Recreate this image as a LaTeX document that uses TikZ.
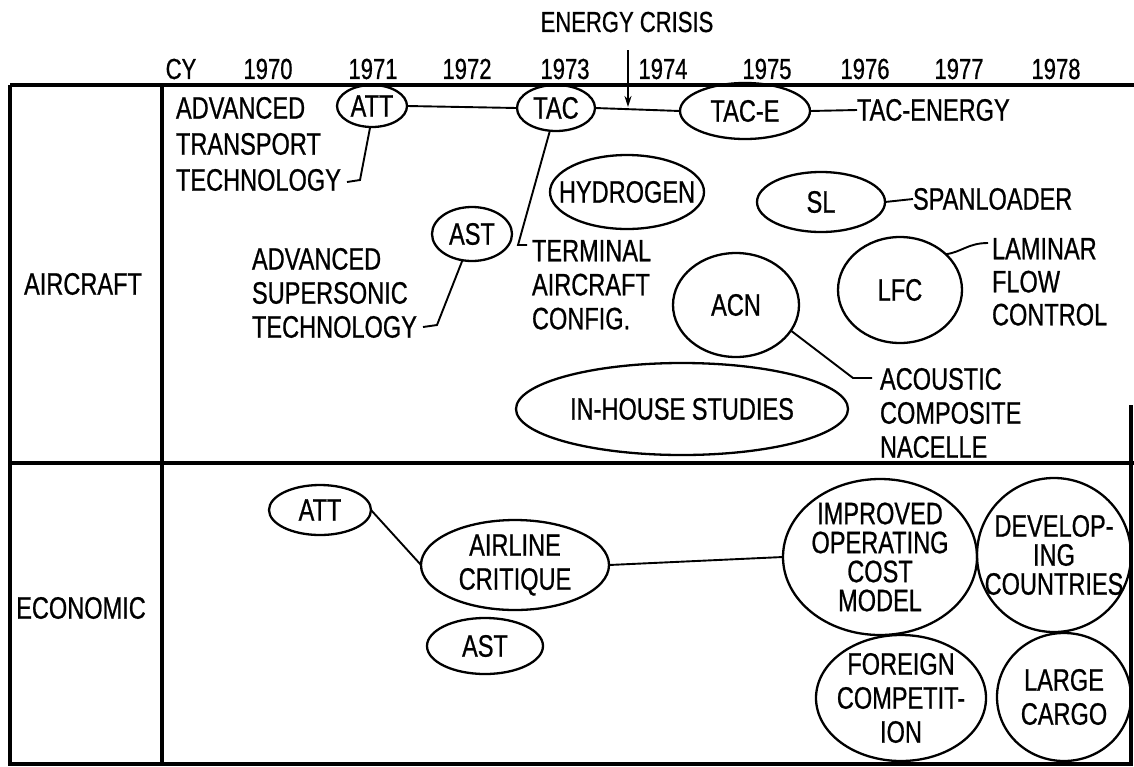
\documentclass[tikz,border=0pt]{standalone}
\usepackage{fontspec}
\setmainfont{Liberation Sans}[FakeStretch=0.76, FakeBold=0.7]
\usetikzlibrary{shapes.geometric,arrows.meta}
\begin{document}
\begin{tikzpicture}[x=1pt,y=-1pt,
  every node/.style={inner sep=0pt, outer sep=0pt},
  txt/.style={font=\fontsize{31}{34}\selectfont, align=left},
  ctxt/.style={font=\fontsize{31}{34}\selectfont, align=center},
  hdr/.style={font=\fontsize{29}{32}\selectfont},
  oval/.style 2 args={draw, ellipse, line width=2.3pt, minimum width=#1, minimum height=#2},
  frame/.style={line width=3.4pt},
  conn/.style={line width=1.9pt},
]
\useasboundingbox (0,0) rectangle (1134,766);
% frame
\draw[frame] (10,85) -- (1134,85);
\draw[frame] (10,463) -- (1134,463);
\draw[frame] (10,85) -- (10,764) -- (1131,764) -- (1131,405);
\draw[frame] (162,85) -- (162,764);
% header
\node[hdr] (title) at (627,22) {ENERGY CRISIS};
\node[hdr] (cy) at (181,69) {CY};
\node[hdr] (y70) at (268,69) {1970};
\node[hdr] (y71) at (373,69) {1971};
\node[hdr] (y72) at (467,69) {1972};
\node[hdr] (y73) at (565,69) {1973};
\node[hdr] (y74) at (663,69) {1974};
\node[hdr] (y75) at (767,69) {1975};
\node[hdr] (y76) at (865,69) {1976};
\node[hdr] (y77) at (959,69) {1977};
\node[hdr] (y78) at (1056,69) {1978};
% row labels
\node[txt] (aircraft) at (83,284) {AIRCRAFT};
\node[txt] (economic) at (81,608) {ECONOMIC};
% aircraft row
\node[oval={70}{42}] (att) at (372,106) {};
\node[ctxt] (attT) at (att) {ATT};
\node[oval={78}{46}] (tac) at (556,108) {};
\node[ctxt] (tacT) at (tac) {TAC};
\node[oval={130}{56}] (tace) at (745,111) {};
\node[ctxt] (taceT) at (tace) {TAC-E};
\node[txt, anchor=west] (tacen) at (857,110) {TAC-ENERGY};
\node[oval={154}{74}] (hyd) at (627,192) {};
\node[ctxt] (hydT) at (hyd) {HYDROGEN};
\node[oval={128}{60}] (sl) at (821,202) {};
\node[ctxt] (slT) at (sl) {SL};
\node[txt, anchor=west] (span) at (913,199) {SPANLOADER};
\node[oval={80}{54}] (ast) at (472,234) {};
\node[ctxt] (astT) at (ast) {AST};
\node[oval={126}{104}] (acn) at (736,305) {};
\node[ctxt] (acnT) at (acn) {ACN};
\node[oval={124}{106}] (lfc) at (900,290) {};
\node[ctxt] (lfcT) at (lfc) {LFC};
\node[oval={332}{92}] (inh) at (682,409) {};
\node[ctxt] (inhT) at (inh) {IN-HOUSE STUDIES};
\node[txt, anchor=north west, font=\fontsize{31}{36}\selectfont] (attL) at (176,97) {ADVANCED\\TRANSPORT\\TECHNOLOGY};
\node[txt, anchor=north west] (astL) at (252,248) {ADVANCED\\SUPERSONIC\\TECHNOLOGY};
\node[txt, anchor=north west] (tacL) at (532,240) {TERMINAL\\AIRCRAFT\\CONFIG.};
\node[txt, anchor=north west] (acnL) at (880,368) {ACOUSTIC\\COMPOSITE\\NACELLE};
\node[txt, anchor=north west, font=\fontsize{31}{33}\selectfont] (lfcL) at (992,238) {LAMINAR\\FLOW\\CONTROL};
% aircraft connectors
\coordinate (ec) at (628,107);
\coordinate (ectop) at (628,50);
\draw[conn] (att.east) -- (tac.west);
\draw[conn] (tac.east) -- (tace.west);
\draw[conn, -{Stealth[length=11pt,width=7pt]}] (ectop) -- (ec);
\draw[conn] (tace.east) -- (tacen.west);
\draw[conn] (sl.east) -- (span.west);
\coordinate (a1) at (360,180);
\coordinate (a2) at (347,182);
\draw[conn] (att.265) -- (a1) -- (a2);
\coordinate (s1) at (437,325);
\coordinate (s2) at (423,327);
\draw[conn] (ast.250) -- (s1) -- (s2);
\coordinate (t1) at (518,245);
\coordinate (t2) at (527,245);
\draw[conn] (tac.255) -- (t1) -- (t2);
\coordinate (n1) at (853,378);
\coordinate (n2) at (872,378);
\draw[conn] (acn.-25) -- (n1) -- (n2);
\coordinate (l1) at (988,243);
\draw[conn] (lfc.38) .. controls (962,252) and (968,243) .. (l1);
% economic row
\node[oval={102}{50}] (att2) at (320,510) {};
\node[ctxt] (att2T) at (att2) {ATT};
\node[oval={188}{90}] (air) at (515,565) {};
\node[ctxt] (airT) at (air) {AIRLINE\\CRITIQUE};
\node[oval={116}{56}] (ast2) at (485,646) {};
\node[ctxt] (ast2T) at (ast2) {AST};
\node[oval={194}{156}] (ioc) at (880,557) {};
\node[ctxt, font=\fontsize{31}{29}\selectfont] (iocT) at (ioc) {IMPROVED\\OPERATING\\COST\\MODEL};
\node[oval={154}{154}] (dev) at (1054,555) {};
\node[ctxt, font=\fontsize{31}{29}\selectfont] (devT) at (dev) {DEVELOP-\\ING\\COUNTRIES};
\node[oval={170}{126}] (for) at (901,698) {};
\node[ctxt] (forT) at (for) {FOREIGN\\COMPETIT-\\ION};
\node[oval={134}{128}] (lc) at (1064,697) {};
\node[ctxt] (lcT) at (lc) {LARGE\\CARGO};
\draw[conn] (att2.east) -- (air.west);
\draw[conn] (air.east) -- (ioc.west);
\end{tikzpicture}
\end{document}
